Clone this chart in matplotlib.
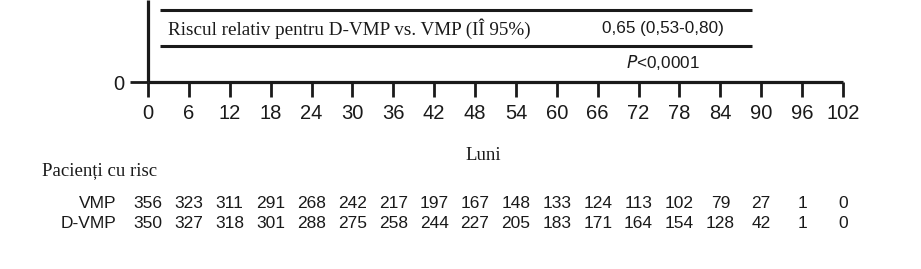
import matplotlib
matplotlib.use("Agg")
import matplotlib.pyplot as plt
import matplotlib.transforms as mtransforms
from matplotlib import font_manager

# ---- data ----
months = [0, 6, 12, 18, 24, 30, 36, 42, 48, 54, 60, 66, 72, 78, 84, 90, 96, 102]
risk_labels = ["VMP", "D-VMP"]
risk_vmp = [356, 323, 311, 291, 268, 242, 217, 197, 167, 148, 133, 124, 113, 102, 79, 27, 1, 0]
risk_dvmp = [350, 327, 318, 301, 288, 275, 258, 244, 227, 205, 183, 171, 164, 154, 128, 42, 1, 0]
hr_label = "Riscul relativ pentru D-VMP vs. VMP (IÎ 95%)"
hr_value = "0,65 (0,53-0,80)"
x_label = "Luni"
risk_title = "Pacienți cu risc"

names = {f.name for f in font_manager.fontManager.ttflist}
sans = ["Liberation Sans Narrow"] if "Liberation Sans Narrow" in names else []
sans += ["Liberation Sans", "DejaVu Sans"]
serif = ["Liberation Serif", "DejaVu Serif"]

W, H = 921, 269
fig = plt.figure(figsize=(W / 100, H / 100), dpi=100)
col = "#1a1a1a"

def fx(px):
    return px / W

def fy(py):
    return 1 - py / H

ax_left, ax_right, ax_top, ax_bot = 148, 843, 0, 82
ax = fig.add_axes([fx(ax_left), fy(ax_bot), fx(ax_right - ax_left), (ax_bot - ax_top) / H])
ax.set_xlim(0, 102)
ax.set_ylim(0, 1)
for s in ["top", "right"]:
    ax.spines[s].set_visible(False)
for s in ["left", "bottom"]:
    ax.spines[s].set_linewidth(2.3)
    ax.spines[s].set_color(col)
    ax.spines[s].set_capstyle("butt")
ax.set_xticks(months)
ax.set_xticklabels([str(m) for m in months], fontfamily=sans, fontsize=14.5, color=col)
ax.set_yticks([0])
ax.set_yticklabels(["0"], fontfamily=sans, fontsize=14.5, color=col)
ax.tick_params(axis="x", length=11, width=2.0, pad=5, color=col)
ax.tick_params(axis="y", length=13, width=2.0, pad=4, color=col)
ax.patch.set_visible(False)

# table lines and text inside the axes
def ay(py):
    return (ax_bot - py) / (ax_bot - ax_top)

x0 = (160 - ax_left) / (ax_right - ax_left) * 102
x1 = (752 - ax_left) / (ax_right - ax_left) * 102
for py in (10, 46):
    ax.plot([x0, x1], [ay(py), ay(py)], color=col, lw=2.2, solid_capstyle="butt", clip_on=False)
ax.text((168 - ax_left) / (ax_right - ax_left) * 102, ay(29), hr_label, fontfamily=serif,
        fontsize=13.8, color=col, ha="left", va="center")
xc = (663 - ax_left) / (ax_right - ax_left) * 102
ax.text(xc, ay(29), hr_value, fontfamily=sans, fontsize=12.3, color=col, ha="center", va="center")
ax.text(xc, ay(62), "$\\it{P}$<0,0001", fontfamily=sans, fontsize=12.3, color=col,
        ha="center", va="center")

# labels
fig.text(fx(483), fy(155), x_label, fontfamily=serif, fontsize=13.5, color=col,
         ha="center", va="center")
fig.text(fx(42), fy(171), risk_title, fontfamily=serif, fontsize=13.5, color=col,
         ha="left", va="center")

trans = mtransforms.blended_transform_factory(ax.transData, fig.transFigure)
for lab, vals, py in zip(risk_labels, [risk_vmp, risk_dvmp], [203, 223]):
    fig.text(fx(116), fy(py), lab, fontfamily=sans, fontsize=12.5, color=col,
             ha="right", va="center")
    for m, v in zip(months, vals):
        ax.text(m, fy(py), str(v), transform=trans, fontfamily=sans, fontsize=12.5,
                color=col, ha="center", va="center", clip_on=False)

fig.savefig("out.png", dpi=100, facecolor="white")
